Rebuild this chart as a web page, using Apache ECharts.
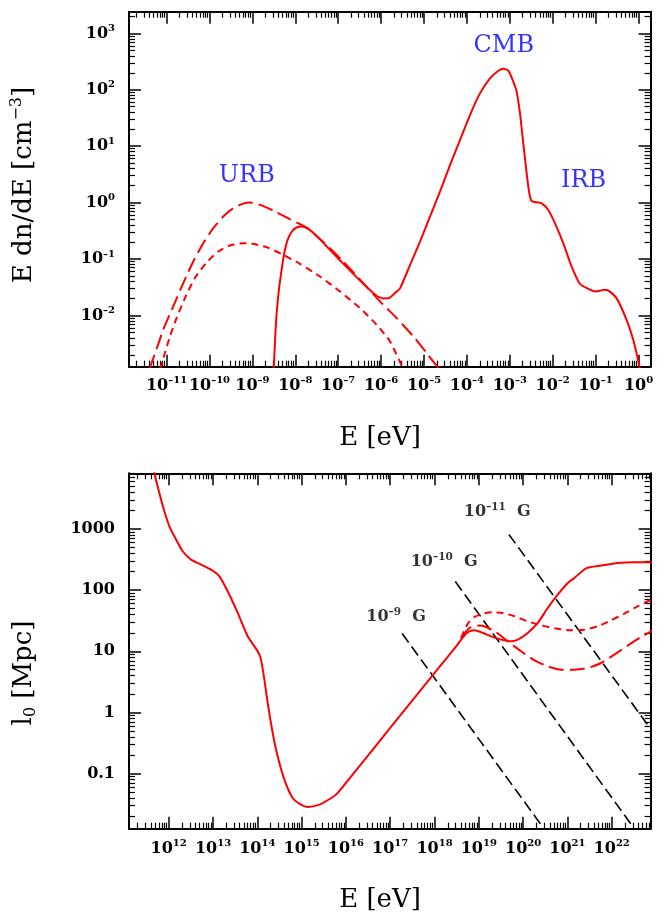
<!DOCTYPE html>
<html>
<head>
<meta charset="utf-8">
<script src="https://cdn.jsdelivr.net/npm/echarts@6/dist/echarts.min.js"></script>
<style>html,body{margin:0;padding:0;background:#fff}#c{width:670px;height:918px}</style>
</head>
<body>
<div id="c"></div>
<script>
// ---------- data (all in log10 units) ----------
// top panel ticks
const topXTickExp = [-11,-10,-9,-8,-7,-6,-5,-4,-3,-2,-1,0];
const topYTickExp = [-2,-1,0,1,2,3];
// bottom panel ticks
const botXTickExp = [12,13,14,15,16,17,18,19,20,21,22];
const botYTickExp = [-1,0,1,2,3];
const botYTickLabels = ['0.1','1','10','100','1000'];

// top panel: total background (solid)
const totLogE = [-8.50,-8.482,-8.459,-8.428,-8.382,-8.319,-8.257,-8.179,-8.078,-7.970,-7.853,-7.698,-7.503,-7.193,-6.804,-6.416,-6.105,-5.949,-5.810,-5.678,-5.559,-5.326,-5.093,-4.860,-4.627,-4.394,-4.161,-3.928,-3.695,-3.462,-3.267,-3.151,-3.034,-2.918,-2.840,-2.762,-2.685,-2.607,-2.545,-2.490,-2.374,-2.257,-2.102,-1.946,-1.752,-1.558,-1.364,-1.169,-1.014,-0.900,-0.800,-0.700,-0.509,-0.276,-0.121,-0.027,0.035];
const totLogN = [-2.95,-2.608,-2.254,-1.900,-1.546,-1.192,-0.897,-0.661,-0.513,-0.442,-0.425,-0.466,-0.590,-0.838,-1.145,-1.440,-1.652,-1.699,-1.693,-1.605,-1.521,-1.108,-0.694,-0.251,0.193,0.665,1.109,1.552,1.936,2.202,2.338,2.374,2.338,2.143,1.966,1.582,1.050,0.518,0.163,0.027,0.004,-0.014,-0.132,-0.369,-0.723,-1.137,-1.444,-1.530,-1.575,-1.565,-1.545,-1.560,-1.699,-2.083,-2.437,-2.733,-2.950];
// top panel: URB upper estimate (long dashes)
const urbHiLogE = [-11.40,-11.233,-11.078,-10.845,-10.611,-10.378,-10.145,-9.912,-9.679,-9.446,-9.213,-9.057,-8.824,-8.514,-8.125,-7.737,-7.348,-6.882,-6.416,-6.027,-5.639,-5.250,-4.939,-4.650];
const urbHiLogN = [-2.95,-2.596,-2.254,-1.841,-1.428,-1.044,-0.720,-0.454,-0.248,-0.100,-0.018,0.000,-0.041,-0.142,-0.295,-0.445,-0.700,-1.044,-1.428,-1.752,-2.047,-2.372,-2.667,-2.950];
// top panel: URB lower estimate (short dashes)
const urbLoLogE = [-11.155,-11.039,-10.922,-10.767,-10.573,-10.340,-10.068,-9.796,-9.524,-9.213,-8.980,-8.669,-8.280,-7.892,-7.426,-6.960,-6.493,-6.105,-5.794,-5.485];
const urbLoLogN = [-2.95,-2.667,-2.372,-2.047,-1.693,-1.339,-1.062,-0.867,-0.761,-0.720,-0.732,-0.791,-0.926,-1.086,-1.310,-1.575,-1.870,-2.165,-2.460,-2.950];
// top panel annotations
const bgNames = ['URB','CMB','IRB'];
const bgLogE = [-9.13,-3.14,-1.28];
const bgLogN = [0.47,2.785,0.38];

// bottom panel: l0 (solid)
const l0LogE = [11.65,11.676,11.789,11.902,12.015,12.128,12.316,12.504,12.730,12.956,13.144,13.332,13.558,13.783,14.009,14.084,14.160,14.235,14.348,14.460,14.611,14.799,14.987,15.138,15.326,15.476,15.777,16.078,16.379,16.680,16.981,17.282,17.583,17.884,18.185,18.489,18.677,18.789,18.902,19.053,19.278,19.504,19.729,19.880,20.105,20.331,20.556,20.782,21.008,21.158,21.421,21.759,22.135,22.511,22.925];
const l0LogL = [4.05,3.916,3.589,3.289,3.044,2.880,2.635,2.499,2.417,2.335,2.226,1.981,1.627,1.245,1.000,0.864,0.537,0.155,-0.335,-0.717,-1.098,-1.398,-1.507,-1.545,-1.523,-1.480,-1.343,-1.080,-0.810,-0.540,-0.270,0.000,0.270,0.540,0.810,1.080,1.260,1.325,1.343,1.311,1.245,1.191,1.163,1.191,1.300,1.463,1.708,1.926,2.117,2.199,2.357,2.401,2.444,2.455,2.455];
// bottom panel: short-dashed variant
const l0ShortLogE = [18.60,18.752,18.902,19.090,19.316,19.541,19.805,20.105,20.406,20.707,21.083,21.383,21.684,21.985,22.286,22.586,22.925];
const l0ShortLogL = [1.22,1.452,1.561,1.616,1.638,1.627,1.572,1.490,1.425,1.376,1.343,1.354,1.409,1.507,1.616,1.736,1.856];
// bottom panel: long-dashed variant
const l0LongLogE = [18.60,18.789,18.977,19.165,19.391,19.654,19.955,20.256,20.556,20.857,21.158,21.459,21.759,22.060,22.361,22.662,22.925];
const l0LongLogL = [1.22,1.381,1.420,1.398,1.311,1.163,1.000,0.853,0.755,0.700,0.700,0.728,0.809,0.946,1.093,1.234,1.340];
// bottom panel: magnetic-field lines (black dashed), end points
const bFieldExp = [-9,-10,-11];
const bStartLogE = [17.27,18.47,19.68];
const bStartLogL = [1.29,2.14,2.91];
const bEndLogE = [20.41,22.44,22.88];
const bEndLogL = [-1.84,-1.83,-0.27];
const bLabelLogE = [16.45,17.45,18.65];
const bLabelLogL = [1.562,2.461,3.278];

// ---------- layout / style ----------
const FONT = 'DejaVu Serif';
const RED = '#ff0000';
const topRange = {x:[-11.876,0.282], y:[-2.91,3.384]};
const botRange = {x:[11.104,22.878], y:[-1.90,3.91]};

function zip(a,b){ return a.map((v,i)=>[v,b[i]]); }
function minorList(lo,hi){
  const out=[];
  for(let d=Math.floor(lo)-1; d<=Math.ceil(hi); d++){
    for(let k=2;k<=9;k++){ const v=d+Math.log10(k); if(v>lo && v<hi) out.push(v); }
  }
  return out;
}
function expText(e){ return e<0 ? '\u2013'+(-e) : String(e); }
const tickRich = {
  b:{fontFamily:FONT, fontSize:16, fontWeight:'bold', color:'#000', lineHeight:20},
  s:{fontFamily:FONT, fontSize:10, fontWeight:'bold', color:'#000', lineHeight:12, verticalAlign:'top'}
};

function axisSet(dim, grid, pos, range, majors, labelCfg){
  const common = {type:'value', gridIndex:grid, position:pos, min:range[0], max:range[1],
    splitLine:{show:false}, axisPointer:{show:false}};
  const major = Object.assign({}, common, {
    axisLine:{show:true, onZero:false, lineStyle:{color:'#000', width:2}},
    axisTick:{show:true, inside:true, length:12, customValues:majors, lineStyle:{color:'#000', width:1.5}},
    axisLabel: labelCfg ? Object.assign({show:true, customValues:majors, hideOverlap:false, rich:tickRich}, labelCfg) : {show:false}
  });
  const minor = Object.assign({}, common, {
    axisLine:{show:false, onZero:false},
    axisTick:{show:true, inside:true, length:6, customValues:minorList(range[0],range[1]), lineStyle:{color:'#000', width:1.2}},
    axisLabel:{show:false}
  });
  return [major, minor];
}

const xAxes = [].concat(
  axisSet('x',0,'bottom',topRange.x,topXTickExp,{margin:9, formatter:v=>'{b|10}{s|'+expText(Math.round(v))+'}'}),
  axisSet('x',0,'top',topRange.x,topXTickExp,null),
  axisSet('x',1,'bottom',botRange.x,botXTickExp,{margin:10, formatter:v=>'{b|10}{s|'+expText(Math.round(v))+'}'}),
  axisSet('x',1,'top',botRange.x,botXTickExp,null)
);
const yAxes = [].concat(
  axisSet('y',0,'left',topRange.y,topYTickExp,{margin:14, formatter:v=>'{b|10}{s|'+expText(Math.round(v))+'}'}),
  axisSet('y',0,'right',topRange.y,topYTickExp,null),
  axisSet('y',1,'left',botRange.y,botYTickExp,{margin:14, formatter:v=>'{b|'+botYTickLabels[botYTickExp.indexOf(Math.round(v))]+'}'}),
  axisSet('y',1,'right',botRange.y,botYTickExp,null)
);

function redLine(name, xs, ys, type, grid){
  return {name, type:'line', xAxisIndex:grid*4, yAxisIndex:grid*4, data:zip(xs,ys),
    symbol:'none', smooth:0.2, clip:true, z:3,
    lineStyle:{color:RED, width:2, type:type}};
}

const series = [
  redLine('URB high', urbHiLogE, urbHiLogN, [15,6], 0),
  redLine('URB low', urbLoLogE, urbLoLogN, [7,5], 0),
  redLine('total', totLogE, totLogN, 'solid', 0),
  redLine('l0 long', l0LongLogE, l0LongLogL, [15,6], 1),
  redLine('l0 short', l0ShortLogE, l0ShortLogL, [7,5], 1),
  redLine('l0', l0LogE, l0LogL, 'solid', 1),
];
bFieldExp.forEach((e,i)=>{
  series.push({name:'B'+e, type:'line', xAxisIndex:4, yAxisIndex:4,
    data:[[bStartLogE[i],bStartLogL[i]],[bEndLogE[i],bEndLogL[i]]],
    symbol:'none', z:2, lineStyle:{color:'#000', width:1.6, type:[11,5]}});
});
series.push({type:'scatter', xAxisIndex:0, yAxisIndex:0, symbolSize:1, silent:true,
  itemStyle:{color:'rgba(0,0,0,0)'},
  data:bgNames.map((n,i)=>({value:[bgLogE[i],bgLogN[i]], label:{formatter:n}})),
  label:{show:true, position:'inside', color:'#0000ff', fontFamily:FONT, fontSize:24}});
series.push({type:'scatter', xAxisIndex:4, yAxisIndex:4, symbolSize:1, silent:true,
  itemStyle:{color:'rgba(0,0,0,0)'},
  data:bFieldExp.map((e,i)=>({value:[bLabelLogE[i],bLabelLogL[i]], label:{formatter:'{b|10}{s|'+expText(e)+'}{b|\u00a0\u00a0G}'}})),
  label:{show:true, position:'right', distance:0, rich:{
    b:{fontFamily:FONT, fontSize:16, fontWeight:'bold', color:'#000', lineHeight:20},
    s:{fontFamily:FONT, fontSize:10.5, fontWeight:'bold', color:'#000', lineHeight:12, verticalAlign:'top'}}}});

const titleRich = {
  t:{fontFamily:FONT, fontSize:26, color:'#000', lineHeight:30},
  u:{fontFamily:FONT, fontSize:16, color:'#000', lineHeight:16, verticalAlign:'top'},
  d:{fontFamily:FONT, fontSize:16, color:'#000', lineHeight:14, verticalAlign:'bottom'}
};
function title(x,y,text,rot){
  return {type:'text', x, y, rotation:rot||0, silent:true,
    style:{text, rich:titleRich, align:'center', verticalAlign:'middle', fill:'#000', font:'26px '+FONT}};
}

const chart = echarts.init(document.getElementById('c'), null, {renderer:'canvas'});
chart.setOption({
  animation:false,
  backgroundColor:'#fff',
  grid:[
    {left:129, top:11.7, width:521.6, height:355, containLabel:false},
    {left:129, top:473.3, width:521.6, height:355.4, containLabel:false}
  ],
  xAxis:xAxes,
  yAxis:yAxes,
  series,
  graphic:[
    title(24,185,'{t|E dn/dE [cm}{u|\u22123}{t|]}',Math.PI/2),
    title(380,438,'{t|E [eV]}'),
    title(24,673,'{t|l}{d|0}{t| [Mpc]}',Math.PI/2),
    title(380,900,'{t|E [eV]}')
  ]
});
</script>
</body>
</html>
